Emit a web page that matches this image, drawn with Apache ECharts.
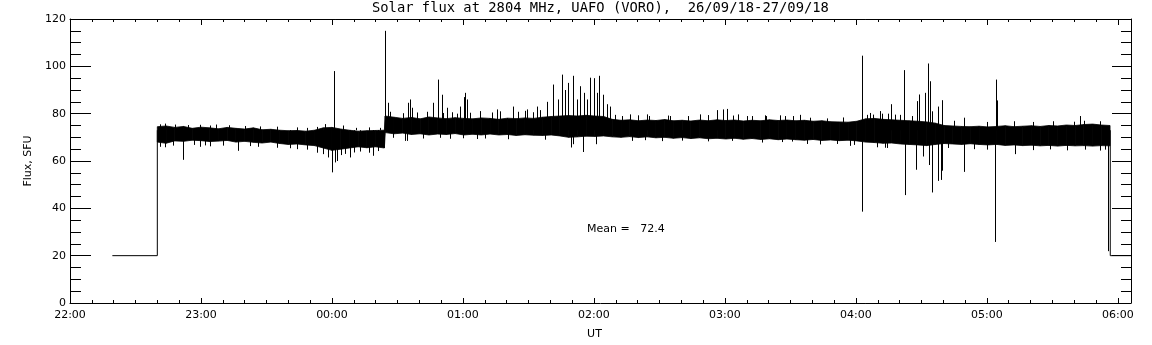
<!DOCTYPE html>
<html>
<head>
<meta charset="utf-8">
<script src="https://cdn.jsdelivr.net/npm/echarts@6/dist/echarts.min.js"></script>
<style>
  html, body { margin: 0; padding: 0; background: #fff; }
  #chart { width: 1152px; height: 345px; }
</style>
</head>
<body>
<div id="chart"></div>
<script>
// time is in minutes after 22:00 UT
var tickLabels = ['22:00', '23:00', '00:00', '01:00', '02:00', '03:00', '04:00', '05:00', '06:00'];

// flat 20 SFU level before and after the observation
var stepStart = [[19.4, 20], [40, 20], [40, 73]];
var stepEnd = [[476.5, 73], [476.5, 20], [486, 20]];

// envelope of the noisy band (upper / lower edge)
var bandT = [
  40, 44, 48, 52, 56, 60, 64, 68, 72, 76, 80, 84, 88, 92, 96, 100, 104, 108, 112, 116, 120, 124, 128, 132, 136, 140, 144,
  144.4, 148.4, 152.4, 156.4, 160.4, 164.4, 168.4, 172.4, 176.4, 180.4, 184.4, 188.4, 192.4, 196.4, 200.4, 204.4, 208.4,
  212.4, 216.4, 220.4, 224.4, 228.4, 232.4, 236.4, 240.4, 244.4, 248.4, 252.4, 256.4, 260.4, 264.4, 268.4, 272.4, 276.4,
  280.4, 284.4, 288.4, 292.4, 296.4, 300.4, 304.4, 308.4, 312.4, 316.4, 320.4, 324.4, 328.4, 332.4, 336.4, 340.4, 344.4,
  348.4, 352.4, 356.4, 360.4, 364.4, 368.4, 372.4, 376.4, 380.4, 384.4, 388.4, 392.4, 396.4, 400.4, 404.4, 408.4, 412.4,
  416.4, 420.4, 424.4, 428.4, 432.4, 436.4, 440.4, 444.4, 448.4, 452.4, 456.4, 460.4, 464.4, 468.4, 472.4, 476.4
];
var bandHi = [
  74.5, 74.8, 74.2, 74.6, 73.8, 74.3, 74.0, 73.6, 74.2, 73.8, 73.5, 74.0, 73.2, 73.4, 73.0, 72.8, 72.9, 72.6, 73.0, 74.0, 74.2, 73.5, 73.0, 72.6, 72.8, 72.9, 73.0,
  79.0, 78.5, 78.0, 78.4, 77.8, 78.6, 78.2, 77.9, 78.3, 78.0, 77.8, 78.2, 78.0, 77.6, 78.1, 77.9, 78.2,
  78.0, 78.5, 78.8, 79.0, 79.2, 79.0, 79.3, 79.0, 78.8, 77.6, 77.2, 77.4, 77.0, 77.3, 77.1, 77.5, 77.0,
  77.2, 76.9, 77.3, 77.0, 77.4, 77.1, 77.3, 76.9, 77.2, 77.0, 77.4, 77.1, 77.3, 77.0, 77.2, 76.8, 77.0,
  76.6, 76.5, 76.4, 76.8, 77.8, 78.0, 77.6, 77.4, 77.2, 77.0, 76.8, 76.5, 76.0, 75.0, 74.8, 74.6, 74.5,
  74.7, 74.4, 74.6, 74.9, 74.5, 74.7, 74.9, 74.6, 75.0, 74.8, 75.2, 75.0, 75.4, 75.6, 75.2, 75.0
];
var bandLo = [
  68.0, 67.5, 68.5, 68.3, 68.8, 68.6, 68.2, 68.4, 68.7, 68.0, 68.3, 67.9, 67.6, 68.0, 67.4, 67.0, 67.2, 66.8, 66.5, 65.5, 64.5, 65.0, 65.5, 66.0, 65.6, 66.0, 65.5,
  72.0, 71.5, 71.8, 71.2, 71.5, 71.0, 71.4, 71.2, 71.6, 71.0, 71.3, 71.0, 71.4, 71.0, 71.2, 70.8, 71.1,
  70.9, 70.8, 71.0, 70.6, 70.0, 70.2, 70.5, 70.4, 70.6, 70.2, 70.0, 70.3, 69.9, 70.2, 69.8, 70.0, 69.6,
  69.9, 69.5, 69.8, 69.4, 69.6, 69.3, 69.6, 69.2, 69.5, 69.1, 69.4, 69.0, 69.3, 69.0, 68.8, 69.1, 68.7,
  68.9, 68.6, 68.8, 68.5, 68.0, 67.8, 67.5, 67.6, 67.2, 67.0, 66.8, 66.5, 67.0, 67.4, 67.2, 67.0, 67.3,
  67.0, 66.8, 67.0, 66.6, 66.8, 66.5, 66.7, 66.4, 66.6, 66.3, 66.6, 66.4, 66.5, 66.3, 66.5, 66.4
];

// isolated bursts sticking out of the band: [minute, SFU]
var spikeBase = 73;
var spikes = [
  [51.8, 60.5], [77.1, 64.3], [116, 62.9], [120.2, 55.2], [121.1, 98], [121.4, 59.4], [122.2, 60], [128.3, 61.5], [139, 62.2],
  [144.2, 115], [145.7, 84.6], [153.5, 68.5], [155, 84.6], [155.8, 86], [156.5, 82.5], [166.5, 84.6], [168.7, 94.4], [170.3, 88],
  [172.6, 82.5], [178.7, 83], [180.5, 87], [181, 88.8], [181.7, 86], [187.8, 81], [195.5, 81.8], [203.1, 82.5], [209.2, 81.8],
  [213.8, 83], [218.4, 85], [221.3, 92.3], [223.7, 86], [225.3, 96.5], [226.8, 90], [228.2, 93], [229.4, 65.7], [230.3, 96],
  [230.6, 67.1], [232.1, 86], [233.7, 91.6], [235.2, 63.8], [235.5, 88.8], [236.7, 86], [238.2, 95.2], [239.8, 95], [240.8, 67.1],
  [241.3, 88.8], [242.4, 96], [244.1, 88], [244.3, 84.6], [245.9, 84], [247.4, 83], [256.6, 79.7], [264.2, 79.7], [274.9, 79],
  [288.6, 79.7], [299.3, 81.8], [300.9, 82], [306.2, 79.7], [310, 79], [316.9, 67.8], [319, 79], [325, 79.3], [331, 79],
  [357.4, 66.4], [362.7, 104.5], [362.9, 38.6], [366.5, 80.3], [368, 79.6], [371.1, 81], [371.9, 80], [373.4, 65.6], [376, 84],
  [378, 79.6], [382.1, 98.4], [382.7, 45.6], [385.6, 79], [387.6, 56.3], [387.9, 85.3], [389.1, 88.1], [390.9, 61.9], [391.7, 88.8],
  [392.8, 101.2], [393.2, 93.4], [393.7, 58.3], [394.1, 93.7], [394.8, 46.7], [395, 81], [397.5, 83], [397.8, 51.6], [398.9, 52],
  [399.2, 85.7], [399.6, 55.9], [409.3, 78], [409.7, 55.4], [423.8, 25.8], [424.1, 94.4], [424.6, 85.6], [432.9, 62.9],
  [462.7, 79], [475.4, 21.9]
];

// small hairs just outside the dense band: [minute, SFU]
var whiskers = [
  [41.2, 75.5], [43.5, 75.8], [48, 75.4], [54, 75.2], [59.5, 75.3], [64.1, 75.0], [67, 75.4], [73, 75.1], [80, 74.8], [87, 74.6],
  [94.7, 74.5], [103.8, 74.2], [108.4, 74.0], [113, 74.4], [117, 75.6], [125, 75.0], [131, 74.0], [137, 74.2], [142, 74.0],
  [41.2, 66.0], [43.5, 65.8], [47, 66.5], [57, 66.8], [59.5, 66.0], [62, 66.6], [64.1, 66.2], [70, 66.5], [82.5, 66.3], [86, 66.0],
  [94.7, 65.6], [101, 65.4], [103.8, 65.0], [108.4, 64.8], [113, 63.5], [118, 61.5], [124, 62.5], [126, 63.0], [130, 63.6],
  [133, 64.0], [137, 63.5], [141, 64.2],
  [146.6, 80.8], [152.7, 80.2], [158.8, 80.5], [163.4, 80.8], [171, 80.3], [174.8, 80.6], [177.1, 80.0], [183.2, 80.4], [187.8, 81],
  [193.2, 80.5], [197, 81], [203.1, 83], [205.4, 80.8], [208.5, 81.2], [212.3, 80.6], [215.3, 81.5], [249.7, 79.5], [252.7, 79.0],
  [260.4, 79.3], [265, 79.0], [274.1, 79.2], [283.3, 79.0], [292.4, 79.4], [296.3, 81.5], [303.5, 79.2], [312.3, 79.0], [318.4, 79.3],
  [327.6, 79.0], [334.4, 79.5], [339, 78.3], [346.7, 78.0], [354.3, 78.4], [365, 79.5], [371.1, 81], [374.9, 80], [380.3, 79.5],
  [404.7, 77.0], [409.3, 78.3], [420, 76.5], [432.2, 76.8], [441.3, 76.5], [450.5, 76.8], [459.7, 76.6], [464.3, 77.0], [471.9, 76.8],
  [148.1, 69.8], [154.2, 68.5], [161.9, 69.5], [169.5, 69.8], [174.1, 69.4], [180.2, 69.6], [186.3, 69.3], [190.1, 69.5], [200.8, 69.2],
  [217.6, 69.0], [257.3, 68.5], [263.4, 68.8], [271.1, 68.4], [280.2, 68.6], [292.4, 68.3], [303.1, 68.5], [326, 68.0], [330.6, 68.2],
  [337.5, 67.2], [343.6, 67.0], [351.2, 67.2], [358.9, 66.8], [369.6, 65.8], [374.1, 65.5], [402.4, 65.5], [413.9, 65.0], [420, 64.8],
  [441.3, 64.6], [449, 64.9], [456.6, 64.5], [465, 64.8], [471.9, 64.4], [474.2, 64.8]
];

var meanText = 'Mean =   72.4';

var chart = echarts.init(document.getElementById('chart'));

var fontName = 'DejaVu Sans';
var timeLabel = function (v) {
  if (v % 60 !== 0) return '';
  return tickLabels[v / 60] || '';
};

// one quad per pair of neighbouring envelope samples
var bandData = [];
for (var i = 0; i < bandT.length - 1; i++) {
  bandData.push([bandT[i], bandLo[i], bandHi[i], bandT[i + 1], bandLo[i + 1], bandHi[i + 1]]);
}

var drawSpike = function (params, api) {
  var p0 = api.coord([api.value(0), spikeBase]);
  var p1 = api.coord([api.value(0), api.value(1)]);
  var x = Math.round(p0[0]) + 0.5;
  return {
    type: 'line',
    shape: { x1: x, y1: p0[1], x2: x, y2: p1[1] },
    style: { stroke: '#000', lineWidth: 1 }
  };
};

var axisLineStyle = { onZero: false, lineStyle: { color: '#000', width: 1 } };

var option = {
  animation: false,
  backgroundColor: '#fff',
  title: {
    text: 'Solar flux at 2804 MHz, UAFO (VORO),  26/09/18-27/09/18',
    left: 372,
    top: 1,
    padding: 0,
    textStyle: { fontFamily: 'DejaVu Sans Mono', fontSize: 13.8, fontWeight: 'normal', color: '#000' }
  },
  graphic: [{
    type: 'text',
    left: 587,
    top: 224,
    style: { text: meanText, fontFamily: fontName, fontSize: 11, fill: '#000' }
  }],
  grid: { left: 70, right: 21, top: 19, bottom: 41, containLabel: false },
  xAxis: [{
    type: 'value',
    min: 0,
    max: 486,
    interval: 60,
    name: 'UT',
    nameLocation: 'middle',
    nameGap: 26,
    nameTextStyle: { fontFamily: fontName, fontSize: 11, color: '#000', padding: [0, 12, 0, 0] },
    axisLine: axisLineStyle,
    axisTick: { inside: true, length: 5, lineStyle: { color: '#000' } },
    minorTick: { show: true, splitNumber: 6, length: 3, lineStyle: { color: '#000' } },
    axisLabel: { formatter: timeLabel, fontFamily: fontName, fontSize: 11, color: '#000', margin: 7 },
    splitLine: { show: false }
  }, {
    type: 'value',
    position: 'top',
    min: 0,
    max: 486,
    interval: 60,
    axisLine: axisLineStyle,
    axisTick: { inside: true, length: 6, lineStyle: { color: '#000' } },
    minorTick: { show: true, splitNumber: 6, length: 3, lineStyle: { color: '#000' } },
    axisLabel: { show: false },
    splitLine: { show: false }
  }],
  yAxis: [{
    type: 'value',
    min: 0,
    max: 120,
    interval: 20,
    name: 'Flux, SFU',
    nameLocation: 'middle',
    nameGap: 34,
    nameTextStyle: { fontFamily: fontName, fontSize: 11, color: '#000' },
    axisLine: { show: true, onZero: false, lineStyle: { color: '#000', width: 1 } },
    axisTick: { inside: true, length: 21, lineStyle: { color: '#000' } },
    minorTick: { show: true, splitNumber: 4, length: 11, lineStyle: { color: '#000' } },
    axisLabel: { fontFamily: fontName, fontSize: 11, color: '#000', margin: 4 },
    splitLine: { show: false }
  }, {
    type: 'value',
    position: 'right',
    min: 0,
    max: 120,
    interval: 20,
    axisLine: { show: true, onZero: false, lineStyle: { color: '#000', width: 1 } },
    axisTick: { inside: true, length: 19, lineStyle: { color: '#000' } },
    minorTick: { show: true, splitNumber: 4, length: 10, lineStyle: { color: '#000' } },
    axisLabel: { show: false },
    splitLine: { show: false }
  }],
  series: [
    {
      type: 'line',
      data: stepStart,
      symbol: 'none',
      lineStyle: { color: '#000', width: 1 }
    },
    {
      type: 'line',
      data: stepEnd,
      symbol: 'none',
      lineStyle: { color: '#000', width: 1 }
    },
    {
      type: 'custom',
      data: bandData,
      encode: { x: [0, 3], y: [1, 2, 4, 5] },
      renderItem: function (params, api) {
        var a = api.coord([api.value(0), api.value(2)]);
        var b = api.coord([api.value(3), api.value(5)]);
        var c = api.coord([api.value(3), api.value(4)]);
        var d = api.coord([api.value(0), api.value(1)]);
        return {
          type: 'polygon',
          shape: { points: [a, b, c, d] },
          style: { fill: '#000', stroke: '#000', lineWidth: 0.8 }
        };
      }
    },
    {
      type: 'custom',
      data: whiskers,
      renderItem: drawSpike
    },
    {
      type: 'custom',
      data: spikes,
      renderItem: drawSpike
    }
  ]
};

chart.setOption(option);
</script>
</body>
</html>
